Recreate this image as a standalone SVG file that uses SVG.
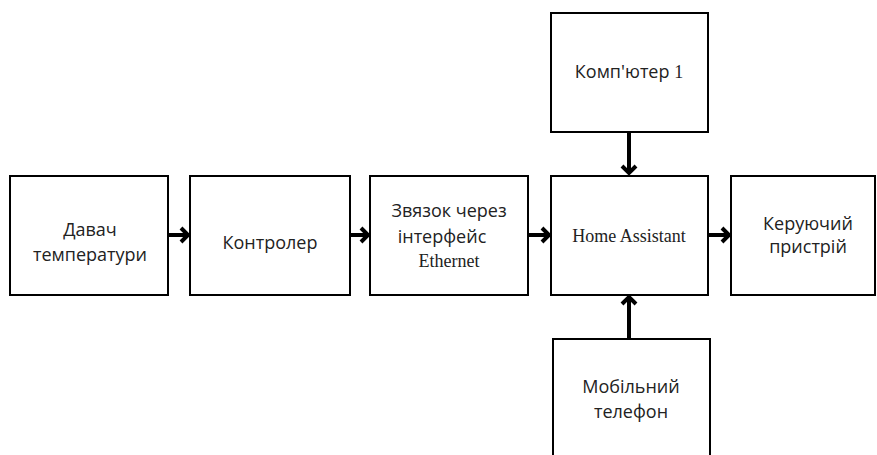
<svg xmlns="http://www.w3.org/2000/svg" width="877" height="455" viewBox="0 0 877 455">
<style>
.box{fill:#fff;stroke:#000;stroke-width:2}
.t{font-family:"Open Sans","Noto Sans",sans-serif;font-size:18px;fill:#222;text-anchor:middle}
.s{font-family:"Liberation Serif","Times New Roman",serif;font-size:18px;fill:#222}
.c{stroke:#000;stroke-width:4;fill:none}
.h{stroke:#000;stroke-width:4;fill:none;stroke-linecap:butt;stroke-linejoin:miter}
</style>
<rect width="877" height="455" fill="#fff"/>
<g id="n1"><rect class="box" x="10" y="176" width="158" height="119"/><text class="t" x="90" y="236">Давач</text><text class="t" x="90" y="261">температури</text></g>
<g id="n2"><rect class="box" x="190" y="176" width="160" height="119"/><text class="t" x="270" y="249">Контролер</text></g>
<g id="n3"><rect class="box" x="370" y="176" width="158" height="119"/><text class="t" x="449" y="217">Звязок через</text><text class="t" x="442" y="243">інтерфейс</text><text class="s" x="449" y="267" text-anchor="middle">Ethernet</text></g>
<g id="n4"><rect class="box" x="551" y="176" width="157" height="119"/><text class="s" x="629" y="242" text-anchor="middle">Home Assistant</text></g>
<g id="n5"><rect class="box" x="731" y="176" width="144" height="119"/><text class="t" x="808" y="230">Керуючий</text><text class="t" x="808" y="253">пристрій</text></g>
<g id="n6"><rect class="box" x="551" y="13" width="157" height="119"/><text class="t" x="629" y="78">Комп'ютер <tspan class="s">1</tspan></text></g>
<g id="n7"><rect class="box" x="553" y="339" width="157" height="130"/><text class="t" x="631" y="393">Мобільний</text><text class="t" x="631" y="418">телефон</text></g>
<g id="connectors">
<path class="c" d="M169 235H187"/><path class="h" d="M181 228L188 235L181 242"/>
<path class="c" d="M351 235H367"/><path class="h" d="M361 228L368 235L361 242"/>
<path class="c" d="M529 235H548"/><path class="h" d="M542 228L549 235L542 242"/>
<path class="c" d="M709 235H728"/><path class="h" d="M722 228L729 235L722 242"/>
<path class="c" d="M629 133V172"/><path class="h" d="M622 166L629 173L636 166"/>
<path class="c" d="M629 338V298"/><path class="h" d="M622 304L629 297L636 304"/>
</g>
</svg>
